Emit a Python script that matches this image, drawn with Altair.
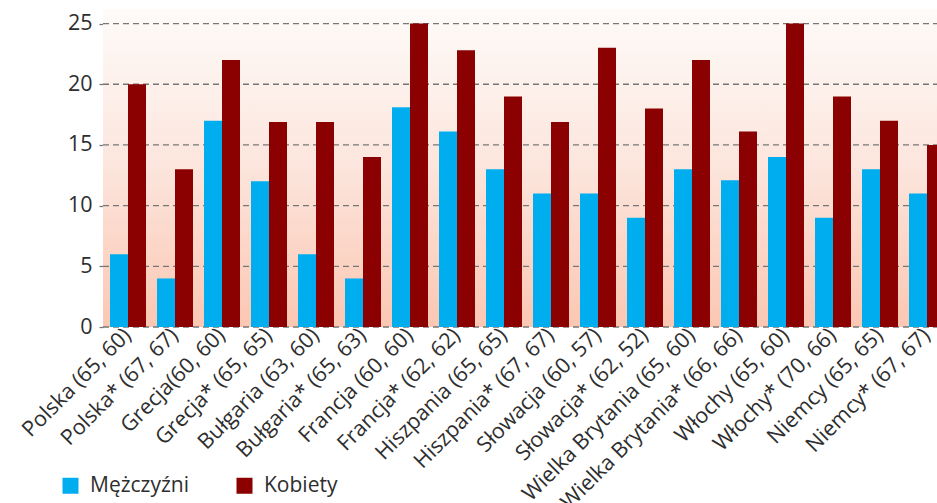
import altair as alt
import pandas as pd

categories = ["Polska (65, 60)", "Polska* (67, 67)", "Grecja(60, 60)", "Grecja* (65, 65)",
              "Bułgaria (63, 60)", "Bułgaria* (65, 63)", "Francja (60, 60)", "Francja* (62, 62)",
              "Hiszpania (65, 65)", "Hiszpania* (67, 67)", "Słowacja (60, 57)", "Słowacja* (62, 52)",
              "Wielka Brytania (65, 60)", "Wielka Brytania* (66, 66)", "Włochy (65, 60)",
              "Włochy* (70, 66)", "Niemcy (65, 65)", "Niemcy* (67, 67)"]
men = [6, 4, 17, 12, 6, 4, 18.1, 16.1, 13, 11, 11, 9, 13, 12.1, 14, 9, 13, 11]
women = [20, 13, 22, 16.9, 16.9, 14, 25, 22.8, 19, 16.9, 23, 18, 22, 16.1, 25, 19, 17, 15]
series = ["Mężczyźni", "Kobiety"]
colors = ["#00AEEF", "#8B0000"]
y_ticks = [0, 5, 10, 15, 20, 25]

rows = []
for c, m, w in zip(categories, men, women):
    rows.append({"cat": c, "series": series[0], "value": m})
    rows.append({"cat": c, "series": series[1], "value": w})
df = pd.DataFrame(rows)
grid_df = pd.DataFrame({"v": y_ticks})
bg_df = pd.DataFrame({"d": [0]})

FONT = "Open Sans"
yscale = alt.Scale(domain=[0, 26.2], nice=False, zero=True)
yaxis = alt.Axis(values=y_ticks, title=None, grid=False, domain=False, labelFontSize=21.5,
                 labelFont=FONT, labelColor="#2e2e2e", tickColor="#777777", tickSize=7,
                 tickDash=[4, 3], tickWidth=1.3, labelPadding=4)

bg = alt.Chart(bg_df).mark_rect(
    color=alt.LinearGradient(
        gradient="linear", x1=0, x2=0, y1=0, y2=1,
        stops=[alt.GradientStop(color="#FEFBF9", offset=0),
               alt.GradientStop(color="#FCE5DC", offset=0.5),
               alt.GradientStop(color="#FBC7B3", offset=1)])
).encode(x=alt.value(0), x2=alt.value("width"), y=alt.value(0), y2=alt.value("height"))

grid = alt.Chart(grid_df).mark_rule(strokeDash=[6, 4], color="#777777", strokeWidth=1.3).encode(
    y=alt.Y("v:Q", scale=yscale, axis=yaxis),
    x=alt.value(0), x2=alt.value("width"))

bars = alt.Chart(df).mark_bar().encode(
    x=alt.X("cat:N", sort=categories, title=None,
            scale=alt.Scale(range=[0, 849], paddingInner=11 / 47, paddingOuter=7 / 47),
            axis=alt.Axis(labelAngle=-45, labelAlign="right", labelBaseline="middle",
                          labelFontSize=21.5, labelFont=FONT, labelColor="#2e2e2e",
                          ticks=False, domain=False, labelPadding=5, labelLimit=0)),
    xOffset=alt.XOffset("series:N", sort=series, scale=alt.Scale(domain=series, paddingInner=0, paddingOuter=0)),
    y=alt.Y("value:Q", scale=yscale, axis=yaxis),
    color=alt.Color("series:N", scale=alt.Scale(domain=series, range=colors),
                    legend=alt.Legend(title=None, orient="none", legendX=-43, legendY=466,
                                      direction="horizontal", symbolType="square",
                                      symbolSize=256, symbolStrokeWidth=0, labelFontSize=21,
                                      labelFont=FONT, labelColor="#2e2e2e", labelOffset=9,
                                      columnPadding=45)),
)

chart = alt.layer(bg, grid, bars).properties(
    width=834, height=318,
    autosize=alt.AutoSizeParams(type="none"),
    padding={"left": 103, "top": 9, "right": 0, "bottom": 176},
).configure_view(stroke=None)

chart.save("out.html", embed_options={"renderer": "svg", "actions": False})
